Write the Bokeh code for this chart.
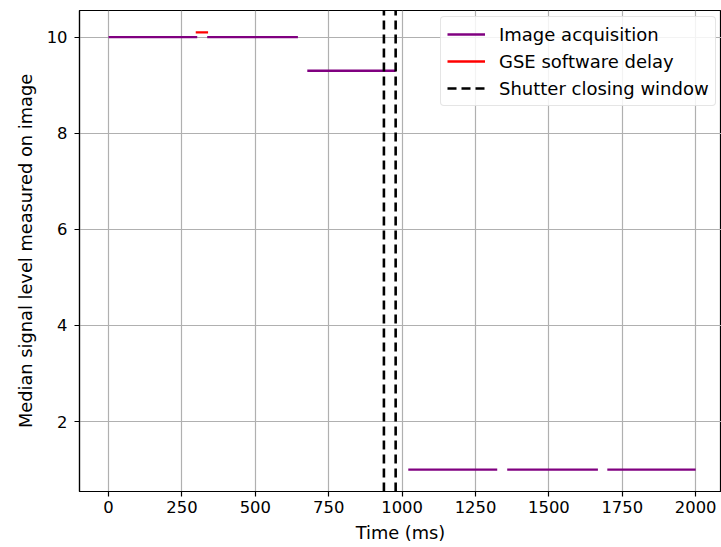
from bokeh.plotting import figure
from bokeh.models import FixedTicker, Range1d, Legend, LegendItem
from bokeh.embed import file_html
from bokeh.resources import INLINE

# ---- data ----
acq_start = [0, 336, 677, 1021, 1358, 1699]
acq_end = [302, 645, 978, 1324, 1667, 2000]
acq_level = [10, 10, 9.3, 1, 1, 1]

gse_start = [297]
gse_end = [339]
gse_level = [10.1]

shutter_ms = [938, 978]

x_ticks = [0, 250, 500, 750, 1000, 1250, 1500, 1750, 2000]
y_ticks = [2, 4, 6, 8, 10]

X_LO, X_HI = -99, 2088
Y_LO, Y_HI = 0.545, 10.555

FONT = "DejaVu Sans"
FS_TICK = "16.4px"
FS_LABEL = "17.8px"
FS_LEGEND = "18px"

p = figure(width=721, height=547, output_backend="svg", toolbar_location=None,
           x_range=Range1d(X_LO, X_HI), y_range=Range1d(Y_LO, Y_HI),
           min_border_left=79, min_border_top=10, min_border_right=0, min_border_bottom=56)

r_acq = p.segment(x0=acq_start, y0=acq_level, x1=acq_end, y1=acq_level,
                  line_color="#800080", line_width=2.4)
r_gse = p.segment(x0=gse_start, y0=gse_level, x1=gse_end, y1=gse_level,
                  line_color="#ff0000", line_width=2.4)
r_sh = p.segment(x0=shutter_ms, y0=[Y_LO] * len(shutter_ms), x1=shutter_ms,
                 y1=[Y_HI] * len(shutter_ms),
                 line_color="black", line_width=2.6, line_dash="9 5")

legend = Legend(items=[LegendItem(label="Image acquisition", renderers=[r_acq]),
                       LegendItem(label="GSE software delay", renderers=[r_gse]),
                       LegendItem(label="Shutter closing window", renderers=[r_sh])],
                location=(361, 385))
legend.label_text_font = FONT
legend.label_text_font_size = FS_LEGEND
legend.label_text_color = "black"
legend.glyph_width = 38
legend.glyph_height = 22
legend.label_height = 22
legend.label_standoff = 14
legend.spacing = 5
legend.padding = 6
legend.margin = 0
legend.border_line_color = "#cccccc"
legend.border_line_width = 1
legend.background_fill_alpha = 0.85
if "border_radius" in Legend.properties():
    legend.border_radius = 4
p.add_layout(legend)

# axes
p.xaxis.ticker = FixedTicker(ticks=x_ticks)
p.yaxis.ticker = FixedTicker(ticks=y_ticks)
for ax in (p.xaxis[0], p.yaxis[0]):
    ax.major_label_text_font = FONT
    ax.major_label_text_font_size = FS_TICK
    ax.major_label_text_color = "black"
    ax.axis_label_text_font = FONT
    ax.axis_label_text_font_size = FS_LABEL
    ax.axis_label_text_font_style = "normal"
    ax.axis_label_text_color = "black"
    ax.major_tick_out = 5
    ax.major_tick_in = 0
    ax.minor_tick_out = 0
    ax.minor_tick_in = 0
    ax.axis_line_color = "black"
    ax.axis_line_width = 1.2
    ax.major_tick_line_color = "black"
    ax.major_tick_line_width = 1.2
p.xaxis.major_label_standoff = 4
p.yaxis.major_label_standoff = 7
p.xaxis.axis_label = "Time (ms)"
p.yaxis.axis_label = "Median signal level measured on image"
p.xaxis.axis_label_standoff = 6
p.yaxis.axis_label_standoff = 8

p.xgrid.ticker = FixedTicker(ticks=x_ticks)
p.ygrid.ticker = FixedTicker(ticks=y_ticks)
p.grid.grid_line_color = "#b0b0b0"
p.grid.grid_line_width = 1.2

p.outline_line_color = "black"
p.outline_line_alpha = 1
p.outline_line_width = 1.2
p.background_fill_color = "white"
p.border_fill_color = "white"

open("out.html", "w").write(file_html(p, INLINE))
